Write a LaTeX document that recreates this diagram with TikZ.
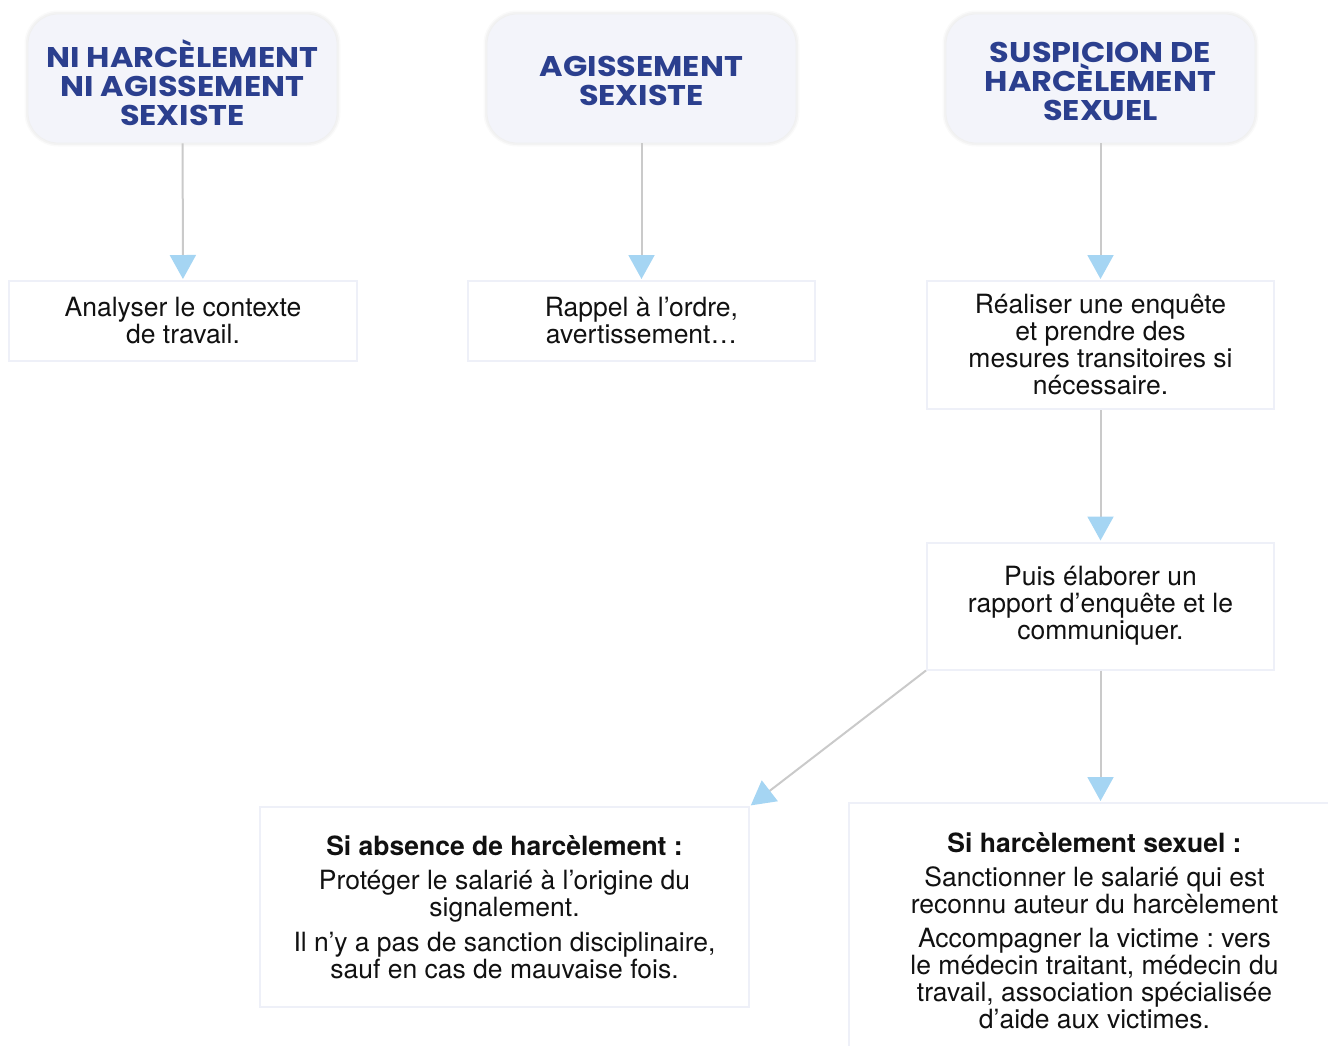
\documentclass[tikz,border=0pt]{standalone}
\usepackage{fontspec}
\setmainfont{TeX Gyre Heros}
\newfontfamily\titlefont{Poppins}[FakeStretch=1.12]
\usetikzlibrary{arrows.meta}
\definecolor{titleblue}{HTML}{2B3F8E}
\definecolor{topfill}{HTML}{F3F4FA}
\definecolor{boxline}{HTML}{EEF0F8}
\definecolor{linegray}{HTML}{CACACA}
\definecolor{tipblue}{HTML}{A5D5F3}
\definecolor{textblack}{HTML}{111111}
\frenchspacing
\tikzset{
  topbox/.style={rounded corners=30pt, fill=topfill, draw=black!6, line width=0.8pt,
    preaction={draw=black!40, line width=7pt, opacity=0.05},
    preaction={draw=black!40, line width=4pt, opacity=0.07},
    inner sep=0pt, minimum width=309pt, minimum height=129pt},
  toptext/.style={text=titleblue, align=center, inner sep=0pt,
    font={\titlefont\bfseries\fontsize{28.5}{29}\selectfont}},
  stepbox/.style={draw=boxline, line width=2pt, fill=white, align=center, inner sep=0pt,
    text=textblack, font={\fontsize{26.5}{27}\selectfont}},
  conn/.style={draw=linegray, line width=2pt,
    -{Triangle[length=24pt,width=26pt,color=tipblue]}, shorten >=1pt},
}
\begin{document}
\begin{tikzpicture}[x=1pt,y=-1pt]
\useasboundingbox (0,0) rectangle (1328,1045);
% top boxes
\node[topbox] (t1) at (182.5,78.5) {};
\node[topbox] (t2) at (641.5,78.5) {};
\node[topbox] (t3) at (1100.5,78.5) {};
\node[toptext] (l1) at (182.5,83) {NI HARCÈLEMENT\\NI AGISSEMENT\\SEXISTE};
\node[toptext] (l2) at (641.5,81) {AGISSEMENT\\SEXISTE};
\node[toptext] (l3) at (1100.5,81) {SUSPICION DE\\HARCÈLEMENT\\SEXUEL};
% step boxes
\node[stepbox, minimum width=348pt, minimum height=80pt] (a) at (183,321) {Analyser le contexte\\de travail.};
\node[stepbox, minimum width=347pt, minimum height=80pt] (b) at (641.5,321) {Rappel à l’ordre,\\avertissement…};
\node[stepbox, minimum width=347pt, minimum height=128pt] (c) at (1100.5,345) {Réaliser une enquête\\et prendre des\\mesures transitoires si\\nécessaire.};
\node[stepbox, minimum width=347pt, minimum height=127pt] (d) at (1100.5,606) {Puis élaborer un\\rapport d’enquête et le\\communiquer.};
\node[stepbox, minimum width=489pt, minimum height=200pt] (e) at (504.5,907) {\textbf{Si absence de harcèlement :}\\[7pt]Protéger le salarié à l’origine du\\signalement.\\[8pt]Il n’y a pas de sanction disciplinaire,\\sauf en cas de mauvaise fois.};
\node[stepbox, minimum width=491pt, minimum height=256pt] (f) at (1094.5,931) {\textbf{Si harcèlement sexuel :}\\[7pt]Sanctionner le salarié qui est\\reconnu auteur du harcèlement\\[7pt]Accompagner la victime : vers\\le médecin traitant, médecin du\\travail, association spécialisée\\d’aide aux victimes.};
% connectors
\draw[conn] (t1) -- (a);
\draw[conn] (t2) -- (b);
\draw[conn] (t3) -- (c);
\draw[conn] (c) -- (d);
\draw[conn] (d.south west) -- (e.north east);
\draw[conn] (d) -- (d.south |- f.north);
\end{tikzpicture}
\end{document}
